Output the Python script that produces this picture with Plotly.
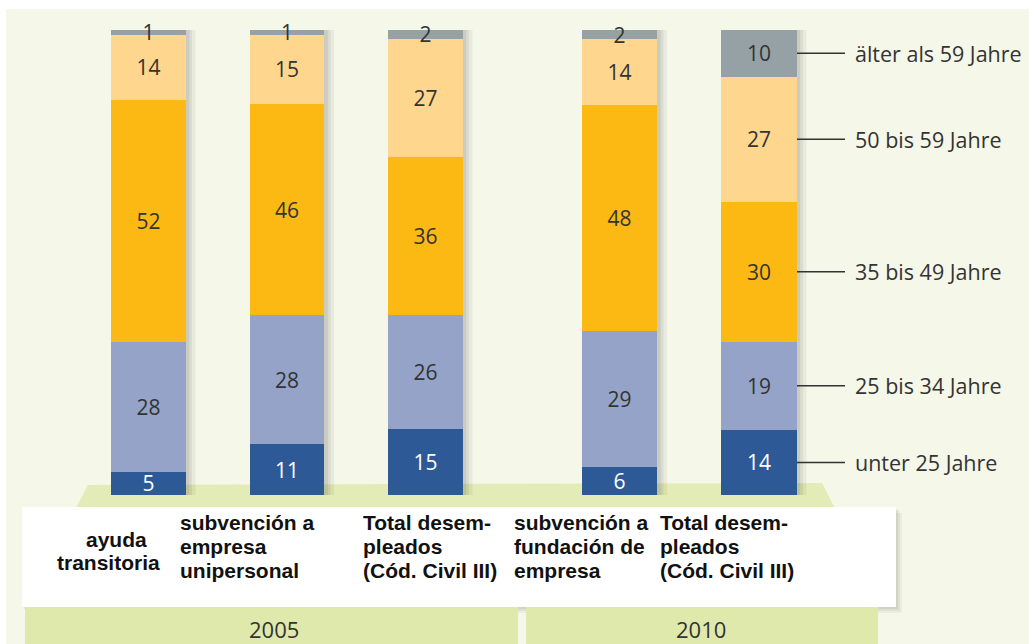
import plotly.graph_objects as go

# Age-group shares of participants, by programme and year
age_groups = ["unter 25 Jahre", "25 bis 34 Jahre", "35 bis 49 Jahre",
              "50 bis 59 Jahre", "älter als 59 Jahre"]

programmes_2005 = ["ayuda<br>transitoria",
                   "subvención a<br>empresa<br>unipersonal",
                   "Total desem-<br>pleados<br>(Cód. Civil III)"]
programmes_2010 = ["subvención a<br>fundación de<br>empresa",
                   "Total desem-<br>pleados<br>(Cód. Civil III)"]
years = ["2005", "2010"]

unter25_2005 = [5, 11, 15]
j25_34_2005 = [28, 28, 26]
j35_49_2005 = [52, 46, 36]
j50_59_2005 = [14, 15, 27]
ueber59_2005 = [1, 1, 2]

unter25_2010 = [6, 14]
j25_34_2010 = [29, 19]
j35_49_2010 = [48, 30]
j50_59_2010 = [14, 27]
ueber59_2010 = [2, 10]

W, H = 1029, 644
colors = ["#2D5A96", "#94A3C7", "#FDB913", "#FED68E", "#96A1A5"]
text_colors = ["#FFFFFF", "#333333", "#333333", "#333333", "#333333"]
NUM_FONT = "Open Sans"
LBL_FONT = "Liberation Sans"


def px(x):
    return x / W


def py(y):
    return 1 - y / H


fig = go.Figure()

series_2005 = [unter25_2005, j25_34_2005, j35_49_2005, j50_59_2005, ueber59_2005]
series_2010 = [unter25_2010, j25_34_2010, j35_49_2010, j50_59_2010, ueber59_2010]

for cats, series, xa, ya in [(programmes_2005, series_2005, "x", "y"),
                             (programmes_2010, series_2010, "x2", "y2")]:
    for k, vals in enumerate(series):
        fig.add_trace(go.Bar(
            x=cats, y=vals, name=age_groups[k], xaxis=xa, yaxis=ya,
            marker=dict(color=colors[k], line=dict(width=0)),
            text=[str(v) for v in vals], textposition="inside",
            insidetextanchor="middle", textangle=0, cliponaxis=False,
            textfont=dict(family=NUM_FONT, size=21, color=text_colors[k]),
            hoverinfo="skip", showlegend=False,
        ))

shapes = []
# page background
shapes.append(dict(type="rect", xref="paper", yref="paper", layer="below",
                   x0=px(6), x1=px(W), y0=py(H), y1=py(9),
                   fillcolor="#F5F7E9", line=dict(width=0)))
# green platform under the bars
shapes.append(dict(type="path", xref="paper", yref="paper", layer="below",
                   path=f"M {px(88)},{py(485)} L {px(822)},{py(483)} "
                        f"L {px(885)},{py(607)} L {px(24)},{py(607)} Z",
                   fillcolor="#E3EBB6", line=dict(width=0)))
# label panel with soft shadow
for off, a in [(6, 0.04), (4, 0.05), (2, 0.06)]:
    shapes.append(dict(type="rect", xref="paper", yref="paper", layer="below",
                       x0=px(22 + off), x1=px(896 + off), y0=py(607 + off), y1=py(507 + off),
                       fillcolor=f"rgba(0,0,0,{a})", line=dict(width=0)))
shapes.append(dict(type="rect", xref="paper", yref="paper", layer="below",
                   x0=px(22), x1=px(896), y0=py(607), y1=py(507),
                   fillcolor="#FFFFFF", line=dict(width=0)))
# year bands
for x0, x1 in [(25, 518), (526, 878)]:
    shapes.append(dict(type="rect", xref="paper", yref="paper", layer="below",
                       x0=px(x0), x1=px(x1), y0=py(H), y1=py(607),
                       fillcolor="#E0E9AC", line=dict(width=0)))
# soft shadow on the right of every bar
for xa, n in [("x", len(programmes_2005)), ("x2", len(programmes_2010))]:
    ya = "y" if xa == "x" else "y2"
    for i in range(n):
        for w, a in [(0.07, 0.05), (0.045, 0.06), (0.025, 0.07)]:
            shapes.append(dict(type="rect", xref=xa, yref=ya, layer="below",
                               x0=i - 0.2, x1=i + 0.27 + w, y0=0, y1=100,
                               fillcolor=f"rgba(0,0,0,{a})", line=dict(width=0)))

annotations = []
# age-group labels beside the last bar
last = [s[-1] for s in series_2010]
total = sum(last)
cum = 0
for k, v in enumerate(last):
    mid = (cum + v / 2) / total * 100
    cum += v
    shapes.append(dict(type="line", xref="paper", yref="y2",
                       x0=px(797), x1=px(845), y0=mid, y1=mid,
                       line=dict(color="#333333", width=1.5)))
    annotations.append(dict(xref="paper", yref="y2", x=px(853), y=mid,
                            text=age_groups[k], showarrow=False,
                            xanchor="left", yanchor="middle",
                            font=dict(family=NUM_FONT, size=21.5, color="#333333")))

# programme labels, one annotation per line
label_specs = [
    (programmes_2005[0], "center", [116, 108], [539, 562]),
    (programmes_2005[1], "left", [178] * 3, [522, 546, 570]),
    (programmes_2005[2], "left", [361] * 3, [522, 546, 570]),
    (programmes_2010[0], "left", [512] * 3, [522, 546, 570]),
    (programmes_2010[1], "left", [658] * 3, [522, 546, 570]),
]
for text, anchor, xs, ys in label_specs:
    for line, x, y in zip(text.split("<br>"), xs, ys):
        annotations.append(dict(xref="paper", yref="paper", x=px(x), y=py(y),
                                text=f"<b>{line}</b>", showarrow=False,
                                xanchor=anchor, yanchor="middle",
                                font=dict(family=LBL_FONT, size=21, color="#111111")))

for yr, x in zip(years, [274, 701]):
    annotations.append(dict(xref="paper", yref="paper", x=px(x), y=py(629),
                            text=yr, showarrow=False, xanchor="center", yanchor="middle",
                            font=dict(family=NUM_FONT, size=22, color="#333333")))

ydom = [py(495), py(30)]
fig.update_layout(
    width=W, height=H, margin=dict(l=0, r=0, t=0, b=0),
    paper_bgcolor="#FFFFFF", plot_bgcolor="rgba(0,0,0,0)",
    barmode="stack", barnorm="percent", bargap=0.46,
    uniformtext=dict(minsize=21, mode="show"),
    xaxis=dict(domain=[px(79.25), px(494.75)], visible=False, anchor="y"),
    xaxis2=dict(domain=[px(549.75), px(828.75)], visible=False, anchor="y2"),
    yaxis=dict(domain=ydom, range=[0, 100], visible=False, anchor="x"),
    yaxis2=dict(domain=ydom, range=[0, 100], visible=False, anchor="x2"),
    shapes=shapes, annotations=annotations,
)

fig.write_html("out.html")
